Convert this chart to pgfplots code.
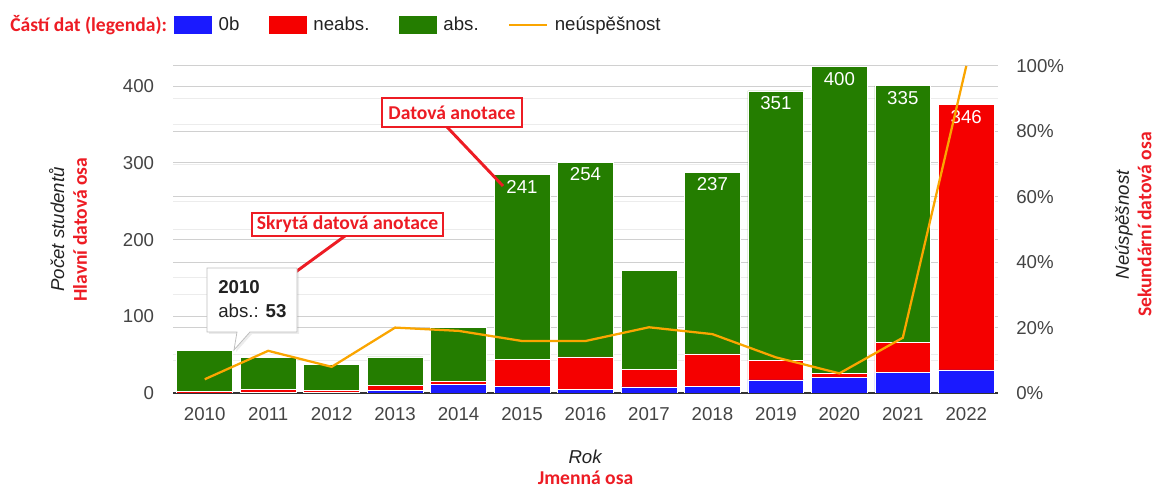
\documentclass[border=0pt]{standalone}
\usepackage{fontspec}
\setmainfont{Liberation Sans}
\newfontfamily\carlito{Carlito}
\usepackage{pgfplots}
\pgfplotsset{compat=1.18}
\usetikzlibrary{shadows}
\definecolor{c0b}{RGB}{26,26,255}
\definecolor{cneabs}{RGB}{245,0,0}
\definecolor{cabs}{RGB}{36,125,0}
\definecolor{cline}{RGB}{250,165,0}
\definecolor{annred}{RGB}{237,28,36}
\definecolor{ticktxt}{RGB}{68,68,68}
\definecolor{txt}{RGB}{34,34,34}
\definecolor{gridmaj}{RGB}{208,208,208}
\definecolor{gridmin}{RGB}{236,236,236}
\newcommand{\fs}{\fontsize{14}{16}\selectfont}
\newcommand{\redb}[1]{{\carlito\bfseries\fontsize{14.7}{16}\selectfont\color{annred}#1}}

\begin{document}
\begin{tikzpicture}
\useasboundingbox (0,0) rectangle (866.25pt,366pt);

% bars, left axis
\begin{axis}[
  at={(129.75pt,71.25pt)}, anchor=south west,
  scale only axis, width=618.75pt, height=245.25pt,
  xmin=-0.5, xmax=12.5, ymin=0, ymax=426.5,
  ybar stacked, bar width=0.88,
  axis x line*=bottom, axis y line*=left,
  x axis line style={draw=black!80, line width=1.1pt, -},
  y axis line style={draw=none},
  major tick length=0pt, minor tick length=0pt,
  xtick={0,...,12},
  xticklabels={2010,2011,2012,2013,2014,2015,2016,2017,2018,2019,2020,2021,2022},
  ytick={0,100,200,300,400},
  minor ytick={50,150,250,350,42.65,127.95,213.25,298.55,383.85},
  extra y ticks={85.3,170.6,255.9,341.2,426.5},
  extra y tick labels={},
  extra y tick style={grid=major},
  ymajorgrids, yminorgrids,
  major grid style={gridmaj, line width=0.75pt},
  minor grid style={gridmin, line width=0.75pt},
  tick label style={font=\fs, color=ticktxt},
  /pgf/number format/assume math mode=true,
  xticklabel style={inner sep=0pt, anchor=north, yshift=-11pt},
  yticklabel style={inner sep=0pt, anchor=east, xshift=-14pt},
  xlabel={\textit{Rok}\\\redb{Jmenná osa}},
  xlabel style={align=center, font=\fs, text=txt, at={(axis description cs:0.5,-0.228)}, anchor=center},
  ylabel={\textit{Počet studentů}\\\redb{Hlavní datová osa}},
  ylabel style={align=center, font=\fontsize{14}{17}\selectfont, text=txt, at={(axis description cs:-0.1273,0.5)}, anchor=center},
  legend columns=4,
  legend style={at={(0.0012,1.125)}, anchor=west, draw=none, fill=none,
    inner sep=0pt, outer sep=0pt, column sep=0pt, font=\fs, text=txt,
    nodes={inner sep=0pt},
    /tikz/every even column/.append style={column sep=22pt}},
  legend cell align=left,
  % segment labels sit at the segment centre: lift them to its top
  visualization depends on={rawy \as \segh},
]
\addplot[fill=c0b, draw=white, line width=0.5pt,
  legend image code/.code={\fill[c0b] (0pt,-6.4pt) rectangle (27.75pt,6.4pt); \path (33pt,0pt);}]
  coordinates {(0,0) (1,1) (2,1) (3,3) (4,11) (5,9) (6,5) (7,8) (8,9) (9,17) (10,20) (11,27) (12,30)};
\addlegendentry{0b}
\addplot[fill=cneabs, draw=white, line width=0.5pt,
  legend image code/.code={\fill[cneabs] (0pt,-6.4pt) rectangle (27.75pt,6.4pt); \path (33pt,0pt);},
  nodes near coords, point meta=explicit symbolic,
  every node near coord/.append style={anchor=north, inner sep=0pt, yshift={\segh*0.28752pt-4pt}, text=white, font=\fs}]
  coordinates {(0,2)[{}] (1,4)[{}] (2,2)[{}] (3,7)[{}] (4,4)[{}] (5,35)[{}] (6,42)[{}]
               (7,23)[{}] (8,42)[{}] (9,26)[{}] (10,6)[{}] (11,39)[{}] (12,346)[346]};
\addlegendentry{neabs.}
\addplot[fill=cabs, draw=white, line width=0.5pt,
  legend image code/.code={\fill[cabs] (0pt,-6.4pt) rectangle (27.75pt,6.4pt); \path (33pt,0pt);},
  nodes near coords, point meta=explicit symbolic,
  every node near coord/.append style={anchor=north, inner sep=0pt, yshift={\segh*0.28752pt-4pt}, text=white, font=\fs}]
  coordinates {(0,53)[{}] (1,41)[{}] (2,34)[{}] (3,37)[{}] (4,70)[{}] (5,241)[241] (6,254)[254]
               (7,129)[{}] (8,237)[237] (9,351)[351] (10,400)[400] (11,335)[335] (12,0)[{}]};
\addlegendentry{abs.}
\addlegendimage{legend image code/.code={\draw[cline, line width=1.7pt] (0pt,0pt) -- (28.5pt,0pt); \path (34pt,0pt);}}
\addlegendentry{neúspěšnost}
\end{axis}

% failure rate, right axis
\begin{axis}[
  at={(129.75pt,71.25pt)}, anchor=south west,
  scale only axis, width=618.75pt, height=245.25pt,
  xmin=-0.5, xmax=12.5, ymin=0, ymax=100,
  axis x line=none, axis y line*=right,
  y axis line style={draw=none},
  major tick length=0pt,
  ytick={0,20,40,60,80,100},
  yticklabels={0\%,20\%,40\%,60\%,80\%,100\%},
  tick label style={font=\fs, color=ticktxt},
  yticklabel style={inner sep=0pt, anchor=west, xshift=13.5pt},
  ylabel={\textit{Neúspěšnost}\\\redb{Sekundární datová osa}},
  ylabel style={align=center, font=\fontsize{14}{17}\selectfont, text=txt, at={(axis description cs:1.164,0.515)}, anchor=center},
]
\addplot[cline, line width=1.7pt] coordinates {
  (0,4.2) (1,12.9) (2,8) (3,20) (4,19) (5,15.9) (6,15.9) (7,20.1) (8,18) (9,10.9) (10,6) (11,16.9) (12,100)};
\end{axis}

% annotations, in pixel units of the reference
\begin{scope}[x=0.75pt, y=-0.75pt, yshift=366pt]
  \node[anchor=west, inner sep=0pt] at (10,25) {\redb{Částí dat (legenda):}};
  \draw[annred, line width=2.2pt] (447,127) -- (503,186);
  \draw[annred, line width=2.2pt, fill=white] (382,98) rectangle (522,127);
  \node at (452,112.5) {\redb{Datová anotace}};
  \draw[annred, line width=2.2pt] (345,236) -- (275,287);
  \draw[annred, line width=2.2pt, fill=white] (252,213) rectangle (443,236);
  \node at (347.5,224.5) {\redb{Skrytá datová anotace}};
  \draw[black!25, fill=white, line width=0.6pt,
        drop shadow={opacity=0.15, shadow xshift=1.5pt, shadow yshift=-1.5pt}]
    (207,268) -- (297,268) -- (297,332) -- (250,332) -- (234,350) -- (237,332) -- (207,332) -- cycle;
  \node[anchor=base west, inner sep=0pt, text=txt] at (218,293.5) {\fs\bfseries 2010};
  \node[anchor=base west, inner sep=0pt, text=txt] at (218,318) {\fs abs.: \textbf{53}};
\end{scope}
\end{tikzpicture}
\end{document}
